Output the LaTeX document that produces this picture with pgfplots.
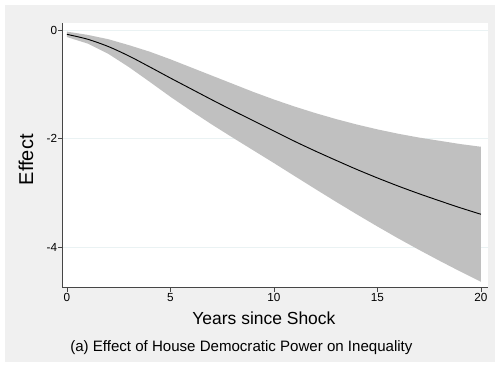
\documentclass[border=0pt]{standalone}
\usepackage{pgfplots}
\pgfplotsset{compat=1.18}
\usepackage{pgfplotstable}
\usepackage{fontspec}
\setmainfont{Liberation Sans}
\definecolor{panel}{RGB}{240,240,240}
\definecolor{bandc}{RGB}{192,192,192}
\definecolor{gridc}{RGB}{234,242,243}
\definecolor{axc}{RGB}{70,70,70}

% point estimate
\pgfplotstableread{
t est
0 -0.08
1 -0.17
2 -0.305
3 -0.48
4 -0.68
5 -0.885
6 -1.085
7 -1.285
8 -1.48
9 -1.67
10 -1.86
11 -2.05
12 -2.229
13 -2.40
14 -2.567
15 -2.724
16 -2.873
17 -3.013
18 -3.145
19 -3.273
20 -3.393
}\irf

% confidence band: upper bound forward, lower bound backward
\pgfplotstableread{
t b
0 -0.03
1 -0.09
2 -0.17
3 -0.28
4 -0.40
5 -0.54
6 -0.69
7 -0.84
8 -0.99
9 -1.14
10 -1.28
11 -1.41
12 -1.53
13 -1.64
14 -1.74
15 -1.83
16 -1.91
17 -1.98
18 -2.04
19 -2.10
20 -2.15
20 -4.636
19 -4.446
18 -4.249
17 -4.046
16 -3.836
15 -3.618
14 -3.393
13 -3.163
12 -2.928
11 -2.69
10 -2.45
9 -2.215
8 -1.98
7 -1.74
6 -1.49
5 -1.23
4 -0.955
3 -0.685
2 -0.44
1 -0.25
0 -0.13
}\ci

\begin{document}
\begin{tikzpicture}[x=1pt,y=1pt]
\fill[white] (0,0) rectangle (375,275.25);
\fill[panel] (3.75,3.75) rectangle (371.25,271.5);
\begin{axis}[
  at={(46.5pt,59.25pt)}, anchor=south west,
  scale only axis, width=319.5pt, height=198.75pt,
  xmin=-0.24, xmax=20.34, ymin=-4.75, ymax=0.129,
  axis background/.style={fill=white},
  axis x line*=bottom, axis y line*=left,
  axis line style={axc, line width=0.75pt, -},
  xtick={0,5,10,15,20}, ytick={-4,-2,0},
  tick align=outside, major tick length=3pt,
  tick style={axc, line width=0.6pt},
  ymajorgrids, grid style={gridc, line width=0.6pt},
  ticklabel style={font=\fontsize{8.8}{10}\selectfont},
  /pgf/number format/assume math mode=true,
  yticklabel style={inner sep=0.5pt},
  xticklabel style={inner sep=1pt},
  xlabel={Years since Shock},
  ylabel={Effect},
  xlabel style={at={(axis description cs:0.474,-0.137)}, anchor=base, inner sep=0pt, font=\fontsize{13.1}{16}\selectfont},
  ylabel style={at={(axis description cs:-0.068,0.484)}, anchor=base, inner sep=0pt, font=\fontsize{15}{18}\selectfont},
]
\addplot[fill=bandc, draw=none] table[x=t,y=b]{\ci} -- cycle;
\addplot[black, line width=0.7pt, smooth] table[x=t,y=est]{\irf};
\end{axis}
\node[anchor=base west, inner sep=0pt, font=\fontsize{11.3}{14}\selectfont] at (52.5,11.5) {(a) Effect of House Democratic Power on Inequality};
\end{tikzpicture}
\end{document}
